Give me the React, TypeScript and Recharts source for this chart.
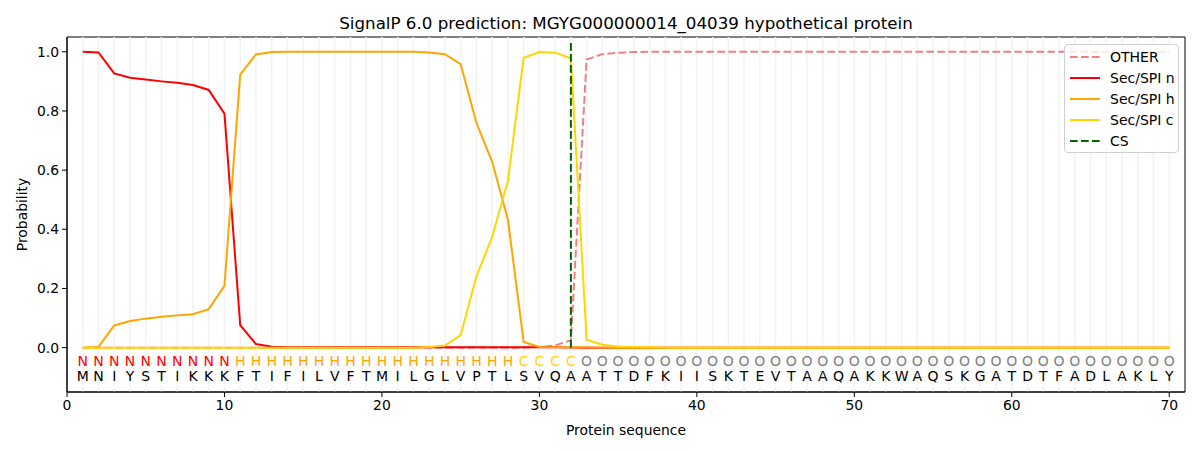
import {
  ComposedChart,
  Line,
  Scatter,
  XAxis,
  YAxis,
  ReferenceLine,
  ReferenceArea,
} from "recharts";

// per-residue probabilities, positions 1..70
const sequence = "MNIYSTIKKKFTIFILVFTMILGLVPTLSVQAATTDFKIISKTEVTAAQAKKWAQSKGATDTFADLAKLY".split("");
const regionLabels = [
  ..."NNNNNNNNNN",
  ..."HHHHHHHHHHHHHHHHHH",
  ..."CCCC",
  ..."OOOOOOOOOOOOOOOOOOOOOOOOOOOOOOOOOOOOOO",
];

const other = [
  0, 0, 0, 0, 0, 0, 0, 0, 0, 0,
  0, 0, 0, 0, 0, 0, 0, 0, 0, 0,
  0, 0, 0, 0, 0, 0, 0, 0, 0, 0.002,
  0.007, 0.025, 0.974, 0.992, 0.997, 0.999, 1, 1, 1, 1,
  1, 1, 1, 1, 1, 1, 1, 1, 1, 1,
  1, 1, 1, 1, 1, 1, 1, 1, 1, 1,
  1, 1, 1, 1, 1, 1, 1, 1, 1, 1,
];
const secN = [
  1.0, 0.998, 0.927, 0.912, 0.906, 0.9, 0.895, 0.888, 0.871, 0.791,
  0.076, 0.012, 0.003, 0.001, 0.001, 0.001, 0.001, 0.001, 0.001, 0.001,
  0.001, 0.001, 0.001, 0.001, 0.001, 0.001, 0.001, 0.001, 0.001, 0.001,
  0.001, 0, 0, 0, 0, 0, 0, 0, 0, 0,
  0, 0, 0, 0, 0, 0, 0, 0, 0, 0,
  0, 0, 0, 0, 0, 0, 0, 0, 0, 0,
  0, 0, 0, 0, 0, 0, 0, 0, 0, 0,
];
const secH = [
  0, 0.003, 0.075, 0.09, 0.098, 0.104, 0.109, 0.113, 0.13, 0.209,
  0.923, 0.991, 0.999, 1, 1, 1, 1, 1, 1, 1,
  1, 1, 0.998, 0.992, 0.958, 0.76, 0.628, 0.433, 0.019, 0.002,
  0.001, 0.001, 0.001, 0, 0, 0, 0, 0, 0, 0,
  0, 0, 0, 0, 0, 0, 0, 0, 0, 0,
  0, 0, 0, 0, 0, 0, 0, 0, 0, 0,
  0, 0, 0, 0, 0, 0, 0, 0, 0, 0,
];
const secC = [
  0, 0, 0, 0, 0, 0, 0, 0, 0, 0,
  0, 0, 0, 0, 0, 0, 0, 0, 0, 0,
  0, 0, 0.002, 0.007, 0.042, 0.241, 0.374, 0.563, 0.98, 0.999,
  0.997, 0.978, 0.027, 0.01, 0.004, 0.002, 0.001, 0, 0, 0,
  0, 0, 0, 0, 0, 0, 0, 0, 0, 0,
  0, 0, 0, 0, 0, 0, 0, 0, 0, 0,
  0, 0, 0, 0, 0, 0, 0, 0, 0, 0,
];
const cleavageSite = 32;
const xTicks = [0, 10, 20, 30, 40, 50, 60, 70];
const yTicks = [0, 0.2, 0.4, 0.6, 0.8, 1.0];

const labelColors: Record<string, string> = {
  N: "#ff0000",
  H: "#ffa500",
  C: "#ffd700",
  O: "#808080",
};

const series = [
  { key: "other", name: "OTHER", color: "#f08080", dash: "7.7 3.3" },
  { key: "n", name: "Sec/SPI n", color: "#ff0000" },
  { key: "h", name: "Sec/SPI h", color: "#ffa500" },
  { key: "c", name: "Sec/SPI c", color: "#ffd700" },
];

const FONT = "DejaVu Sans, sans-serif";
const REGION_Y = -0.045;
const AA_Y = -0.097;

const rows = sequence.map((aa, i) => ({
  pos: i + 1,
  other: other[i],
  n: secN[i],
  h: secH[i],
  c: secC[i],
  region: regionLabels[i],
  aa,
  regionY: REGION_Y,
  aaY: AA_Y,
}));

const RegionText = (props: any) => {
  const { cx, cy, payload } = props;
  return (
    <text x={cx} y={cy} textAnchor="middle" dominantBaseline="central" fontSize={14} fontFamily={FONT} fill={labelColors[payload.region]}>
      {payload.region}
    </text>
  );
};

const AaText = (props: any) => {
  const { cx, cy, payload } = props;
  return (
    <text x={cx} y={cy} textAnchor="middle" dominantBaseline="central" fontSize={14} fontFamily={FONT} fill="#000">
      {payload.aa}
    </text>
  );
};

function LegendBox() {
  const items = [...series, { key: "cs", name: "CS", color: "#006400", dash: "7.7 3.3" }];
  return (
    <div
      style={{
        position: "absolute",
        left: 1064,
        top: 44,
        width: 115,
        height: 109,
        border: "1px solid #d0d0d0",
        borderRadius: 4,
        background: "rgba(255,255,255,0.8)",
        fontFamily: FONT,
        fontSize: 14,
        boxSizing: "border-box",
        paddingTop: 2,
        whiteSpace: "nowrap",
      }}
    >
      {items.map((it) => (
        <div key={it.key} style={{ display: "flex", alignItems: "center", height: 20.8 }}>
          <svg width={46} height={10} style={{ marginLeft: 3, flexShrink: 0 }}>
            <line x1={2} x2={32} y1={5} y2={5} stroke={it.color} strokeWidth={2} strokeDasharray={(it as any).dash} />
          </svg>
          <span style={{ marginLeft: -4 }}>{it.name}</span>
        </div>
      ))}
    </div>
  );
}

export default function App() {
  return (
    <div style={{ position: "absolute", left: 0, top: 0, width: 1200, height: 450, background: "#fff", fontFamily: FONT }}>
      <div style={{ position: "absolute", left: 67, top: 12, width: 1118, textAlign: "center", fontSize: 16.7, lineHeight: "22px" }}>
        SignalP 6.0 prediction: MGYG000000014_04039 hypothetical protein
      </div>
      <ComposedChart width={1200} height={450} data={rows} margin={{ top: 37, right: 15, bottom: 0, left: 0 }}>
        <XAxis
          dataKey="pos"
          type="number"
          domain={[0, 71]}
          ticks={xTicks}
          allowDataOverflow
          height={58}
          tickSize={5}
          tickMargin={3}
          axisLine={{ stroke: "#000" }}
          tickLine={{ stroke: "#000" }}
          tick={{ fill: "#000", fontSize: 13.9, fontFamily: FONT }}
          label={{ value: "Protein sequence", position: "insideBottom", offset: 15, fill: "#000", fontSize: 13.9, fontFamily: FONT }}
        />
        <YAxis
          type="number"
          domain={[-0.15, 1.05]}
          ticks={yTicks}
          allowDataOverflow
          width={67}
          tickSize={5}
          tickMargin={3}
          tickFormatter={(v: number) => v.toFixed(1)}
          axisLine={{ stroke: "#000" }}
          tickLine={{ stroke: "#000" }}
          tick={{ fill: "#000", fontSize: 13.9, fontFamily: FONT }}
          label={(p: any) => {
            const vb = p.viewBox;
            const cy = vb.y + vb.height / 2;
            return (
              <text x={22} y={cy} transform={`rotate(-90, 22, ${cy})`} textAnchor="middle" dominantBaseline="central" fontSize={13.9} fontFamily={FONT} fill="#000">
                Probability
              </text>
            );
          }}
        />
        {rows.map((r) => (
          <ReferenceLine key={`g${r.pos}`} x={r.pos} stroke="#f2f2f2" strokeWidth={1.5} />
        ))}
        <ReferenceArea x1={0} x2={71} y1={-0.15} y2={1.05} fill="none" stroke="#000" strokeWidth={1} />
        {series.map((s) => (
          <Line
            key={s.key}
            dataKey={s.key}
            name={s.name}
            stroke={s.color}
            strokeWidth={2}
            strokeDasharray={s.dash}
            dot={false}
            activeDot={false}
            type="linear"
            isAnimationActive={false}
          />
        ))}
        <ReferenceLine
          segment={[
            { x: cleavageSite, y: 0 },
            { x: cleavageSite, y: 1.035 },
          ]}
          stroke="#006400"
          strokeWidth={2}
          strokeDasharray="7.7 3.3"
        />
        <Scatter dataKey="regionY" shape={RegionText} isAnimationActive={false} />
        <Scatter dataKey="aaY" shape={AaText} isAnimationActive={false} />
      </ComposedChart>
      <LegendBox />
    </div>
  );
}
